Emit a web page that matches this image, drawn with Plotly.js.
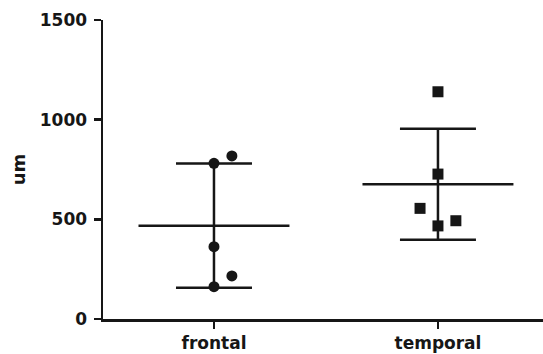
<!DOCTYPE html>
<html><head><meta charset="utf-8">
<script src="https://cdn.plot.ly/plotly-3.0.1.min.js"></script>
<style>html,body{margin:0;padding:0;background:#fff}#chart{width:543px;height:354px}</style>
</head><body><div id="chart"></div>
<script>
const categories = ['frontal', 'temporal'];
const frontalValues = [818, 781, 363, 216, 162];
const temporalValues = [1140, 727, 555, 493, 467];
const yTickVals = [0, 500, 1000, 1500];
const yTickText = ['0', '500', '1000', '1500'];

// horizontal spread of the dots (style, category units)
const spreadFrontal = [0.08, 0, 0, 0.08, 0];
const spreadTemporal = [0, 0, -0.08, 0.08, 0];

function mean(a){return a.reduce((s,v)=>s+v,0)/a.length;}
function sd(a){const m=mean(a);return Math.sqrt(a.reduce((s,v)=>s+(v-m)*(v-m),0)/(a.length-1));}

const groups = [
  {vals: frontalValues, spread: spreadFrontal, symbol: 'circle', size: 11},
  {vals: temporalValues, spread: spreadTemporal, symbol: 'square', size: 11}
];
const ink = '#161616';
const traces = [];
groups.forEach((g, i) => {
  const m = mean(g.vals), s = sd(g.vals);
  traces.push({
    x: [i - 0.337, i + 0.337], y: [m, m], mode: 'lines', type: 'scatter',
    line: {color: ink, width: 2.5}, hoverinfo: 'skip', cliponaxis: false
  });
  traces.push({
    x: [i], y: [m], mode: 'markers', type: 'scatter',
    marker: {size: 0.1, color: ink, opacity: 0},
    error_y: {type: 'data', array: [s], visible: true, color: ink, thickness: 2.5, width: 38},
    hoverinfo: 'skip'
  });
  traces.push({
    x: g.vals.map((v, k) => i + g.spread[k]), y: g.vals, mode: 'markers', type: 'scatter',
    marker: {symbol: g.symbol, size: g.size, color: ink}, cliponaxis: false
  });
});

const font = {family: 'DejaVu Sans', size: 17, color: ink, weight: 'bold'};
const layout = {
  width: 543, height: 354,
  margin: {l: 103, r: 0, t: 20, b: 35},
  showlegend: false,
  paper_bgcolor: '#fff', plot_bgcolor: '#fff',
  font: font,
  xaxis: {
    range: [-0.4955, 1.469], tickvals: [0, 1], ticktext: categories,
    showgrid: false, zeroline: false, showline: true, linecolor: ink, linewidth: 2.5,
    ticks: 'outside', ticklen: 7, tickwidth: 2.5, tickcolor: ink,
    tickfont: font, fixedrange: true
  },
  yaxis: {
    range: [0, 1500], tickvals: yTickVals, ticktext: yTickText,
    showgrid: false, zeroline: false, showline: true, linecolor: ink, linewidth: 2.5,
    ticks: 'outside', ticklen: 7, tickwidth: 2.5, tickcolor: ink,
    tickfont: font, ticklabelstandoff: 3,
    title: {text: 'um', font: {family: 'DejaVu Sans', size: 18, color: ink, weight: 'bold'}, standoff: 10},
    fixedrange: true
  }
};
Plotly.newPlot('chart', traces, layout, {displayModeBar: false, staticPlot: true});
</script></body></html>
